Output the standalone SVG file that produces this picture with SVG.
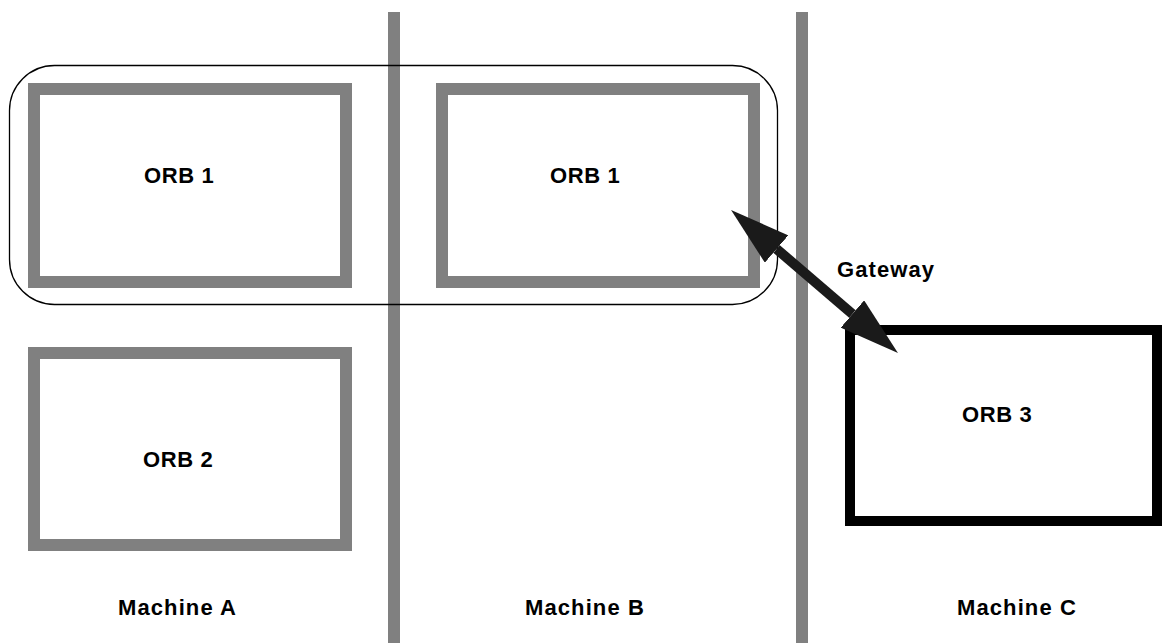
<svg xmlns="http://www.w3.org/2000/svg" width="1162" height="643" viewBox="0 0 1162 643">
<style>
.lbl{font-family:"Liberation Sans",Arial,sans-serif;font-weight:bold;font-size:22px;fill:#000;letter-spacing:0.6px}
.wide{letter-spacing:1.1px}
.orb{fill:#fff;stroke:#808080;stroke-width:12}
.divider{stroke:#808080;stroke-width:12}
</style>
<defs>
<marker id="ah" markerUnits="strokeWidth" markerWidth="6" markerHeight="3.6" refX="0" refY="1.8" orient="auto-start-reverse" viewBox="0 0 6 3.6">
<path d="M0,0 L6,1.8 L0,3.6 z" fill="#1a1a1a"/>
</marker>
</defs>
<rect width="1162" height="643" fill="#fff"/>
<g id="dividers">
<line class="divider" x1="394" y1="12" x2="394" y2="643"/>
<line class="divider" x1="802" y1="12" x2="802" y2="643"/>
</g>
<g id="orb-group">
<rect x="9.5" y="65.5" width="768" height="239" rx="45" ry="45" fill="none" stroke="#000" stroke-width="1.3"/>
</g>
<g id="orb1-a">
<rect class="orb" x="34" y="89" width="312" height="193"/>
<text class="lbl" x="144" y="183">ORB 1</text>
</g>
<g id="orb1-b">
<rect class="orb" x="442" y="89" width="312" height="193"/>
<text class="lbl" x="550" y="183">ORB 1</text>
</g>
<g id="orb2">
<rect class="orb" x="34" y="353" width="312" height="192"/>
<text class="lbl" x="143" y="467">ORB 2</text>
</g>
<g id="orb3">
<rect x="850" y="330" width="307" height="191" fill="#fff" stroke="#000" stroke-width="10"/>
<text class="lbl" x="962" y="422">ORB 3</text>
</g>
<g id="connectors">
<line x1="776.6" y1="249" x2="852.4" y2="314" stroke="#1a1a1a" stroke-width="10" marker-start="url(#ah)" marker-end="url(#ah)"/>
<text class="lbl wide" x="837" y="277">Gateway</text>
</g>
<g id="machine-labels">
<text class="lbl wide" x="118" y="615">Machine A</text>
<text class="lbl wide" x="525" y="615">Machine B</text>
<text class="lbl wide" x="957" y="615">Machine C</text>
</g>
</svg>
